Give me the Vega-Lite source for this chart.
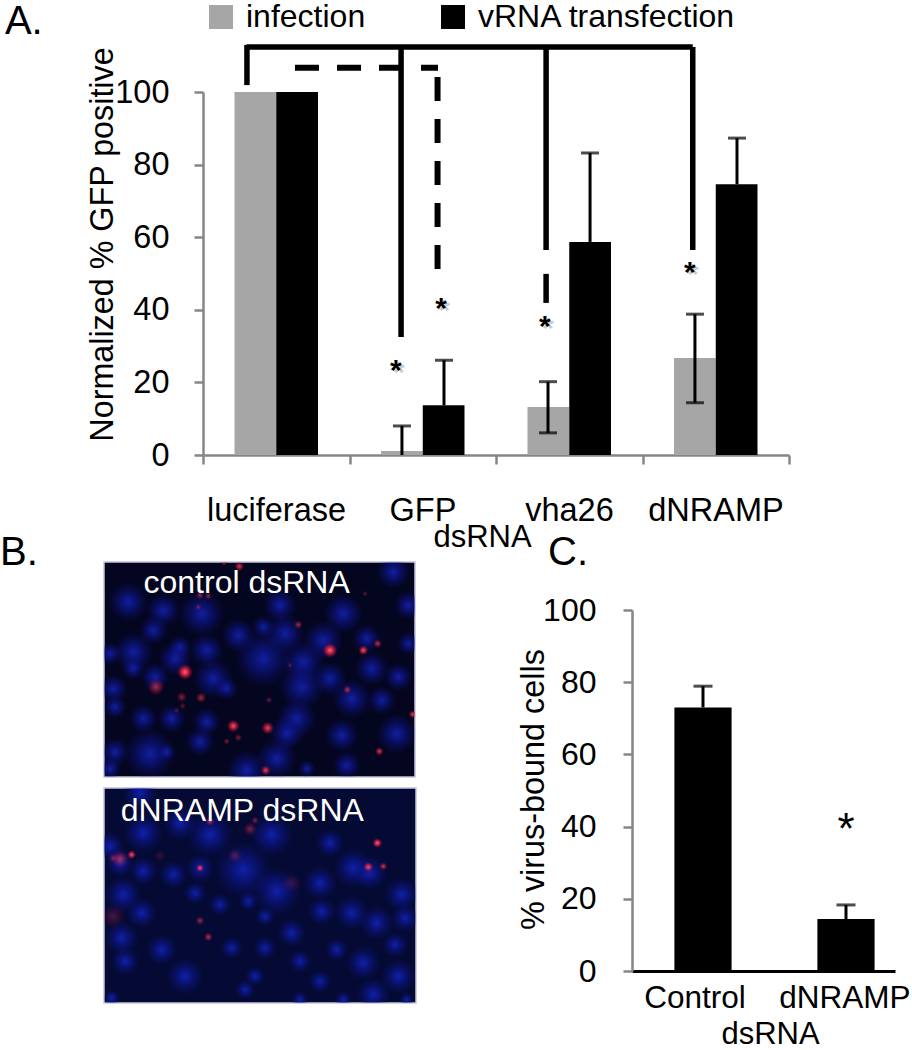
{
"$schema":"https://vega.github.io/schema/vega-lite/v6.json",
"padding":{"left":0,"top":1,"right":0,"bottom":0},
"bounds":"flush",
"spacing":107,
"config":{"font":"Liberation Sans","view":{"stroke":null},"axis":{"grid":false}},
"datasets":{
"bars":[
{"gene":"luciferase","series":"infection","start":0.215,"end":0.5,"value":100},
{"gene":"luciferase","series":"vRNA transfection","start":0.5,"end":0.785,"value":100},
{"gene":"GFP","series":"infection","start":1.215,"end":1.5,"value":1.1},
{"gene":"GFP","series":"vRNA transfection","start":1.5,"end":1.785,"value":13.7},
{"gene":"vha26","series":"infection","start":2.215,"end":2.5,"value":13.2},
{"gene":"vha26","series":"vRNA transfection","start":2.5,"end":2.785,"value":58.7},
{"gene":"dNRAMP","series":"infection","start":3.215,"end":3.5,"value":26.7},
{"gene":"dNRAMP","series":"vRNA transfection","start":3.5,"end":3.785,"value":74.6}],
"errors":[
{"x":1.358,"lower":0,"upper":8},
{"x":1.645,"lower":13.7,"upper":26.1},
{"x":2.355,"lower":6.1,"upper":20.2},
{"x":2.642,"lower":58.7,"upper":83.2},
{"x":3.358,"lower":14.4,"upper":38.8},
{"x":3.645,"lower":74.6,"upper":87.3}],
"capsA":[
{"x":1.358,"y":8},{"x":1.645,"y":26.1},{"x":2.355,"y":6.1},{"x":2.355,"y":20.2},{"x":2.642,"y":83.2},{"x":3.358,"y":14.4},{"x":3.358,"y":38.8},{"x":3.645,"y":87.3}],
"stars":[{"x":1.317,"y":24.2,"t":"*"},{"x":1.625,"y":41.3,"t":"*"},{"x":2.334,"y":36.4,"t":"*"},{"x":3.324,"y":51.2,"t":"*"}],
"panels":[{"x":-1.352,"y":116,"t":"A."},{"x":-1.385,"y":-30.3,"t":"B."},{"x":2.355,"y":-30.3,"t":"C."}],
"nuc1":[{"x":85,"y":140,"d":70},{"x":190,"y":165,"d":60},{"x":305,"y":175,"d":80},{"x":540,"y":150,"d":60},{"x":730,"y":175,"d":70},{"x":925,"y":150,"d":50},{"x":880,"y":50,"d":60},{"x":160,"y":225,"d":50},{"x":415,"y":240,"d":60},{"x":490,"y":215,"d":40},{"x":555,"y":235,"d":70},{"x":670,"y":255,"d":70},{"x":800,"y":250,"d":50},{"x":925,"y":265,"d":40},{"x":30,"y":295,"d":40},{"x":100,"y":290,"d":70},{"x":240,"y":275,"d":40},{"x":320,"y":285,"d":60},{"x":225,"y":310,"d":60},{"x":490,"y":310,"d":100},{"x":610,"y":320,"d":75},{"x":815,"y":340,"d":60},{"x":100,"y":340,"d":40},{"x":165,"y":365,"d":50},{"x":340,"y":370,"d":70},{"x":40,"y":400,"d":50},{"x":895,"y":365,"d":50},{"x":605,"y":395,"d":80},{"x":690,"y":370,"d":60},{"x":380,"y":400,"d":40},{"x":45,"y":455,"d":40},{"x":755,"y":430,"d":70},{"x":845,"y":435,"d":50},{"x":130,"y":490,"d":50},{"x":215,"y":490,"d":50},{"x":320,"y":500,"d":50},{"x":590,"y":490,"d":70},{"x":725,"y":540,"d":60},{"x":890,"y":535,"d":70},{"x":300,"y":560,"d":50},{"x":560,"y":535,"d":60},{"x":150,"y":595,"d":90},{"x":45,"y":590,"d":50},{"x":200,"y":590,"d":30},{"x":530,"y":610,"d":70},{"x":740,"y":630,"d":50},{"x":440,"y":645,"d":70},{"x":30,"y":640,"d":40},{"x":620,"y":640,"d":30}],
"red1":[{"x":690,"y":285,"d":30,"i":1},{"x":790,"y":285,"d":20,"i":0.9},{"x":833,"y":265,"d":18,"i":0.6},{"x":255,"y":350,"d":32,"i":1},{"x":168,"y":395,"d":35,"i":0.5},{"x":595,"y":208,"d":18,"i":0.5},{"x":418,"y":33,"d":20,"i":0.7},{"x":372,"y":20,"d":14,"i":0.7},{"x":300,"y":120,"d":16,"i":0.5},{"x":325,"y":122,"d":14,"i":0.5},{"x":295,"y":155,"d":14,"i":0.35},{"x":303,"y":427,"d":22,"i":0.5},{"x":245,"y":425,"d":22,"i":0.4},{"x":248,"y":452,"d":14,"i":0.3},{"x":400,"y":512,"d":26,"i":0.9},{"x":503,"y":518,"d":26,"i":0.8},{"x":415,"y":547,"d":16,"i":0.4},{"x":380,"y":558,"d":14,"i":0.4},{"x":507,"y":434,"d":14,"i":0.35},{"x":742,"y":403,"d":18,"i":0.55},{"x":938,"y":477,"d":16,"i":0.8},{"x":838,"y":588,"d":18,"i":0.7},{"x":497,"y":645,"d":20,"i":0.8},{"x":570,"y":330,"d":12,"i":0.3},{"x":795,"y":115,"d":12,"i":0.3},{"x":230,"y":465,"d":12,"i":0.3}],
"nuc2":[{"x":130,"y":160,"d":70},{"x":330,"y":165,"d":80},{"x":515,"y":165,"d":75},{"x":690,"y":190,"d":50},{"x":30,"y":200,"d":50},{"x":60,"y":250,"d":50},{"x":130,"y":275,"d":50},{"x":220,"y":285,"d":50},{"x":300,"y":265,"d":50},{"x":430,"y":270,"d":100},{"x":760,"y":265,"d":70},{"x":810,"y":280,"d":60},{"x":530,"y":335,"d":85},{"x":660,"y":310,"d":60},{"x":70,"y":345,"d":65},{"x":285,"y":340,"d":40},{"x":360,"y":375,"d":40},{"x":445,"y":365,"d":35},{"x":125,"y":400,"d":55},{"x":665,"y":395,"d":50},{"x":755,"y":400,"d":60},{"x":915,"y":415,"d":50},{"x":830,"y":430,"d":60},{"x":905,"y":345,"d":60},{"x":495,"y":410,"d":35},{"x":65,"y":475,"d":60},{"x":575,"y":460,"d":50},{"x":185,"y":510,"d":55},{"x":395,"y":505,"d":40},{"x":495,"y":505,"d":40},{"x":710,"y":510,"d":40},{"x":885,"y":495,"d":45},{"x":75,"y":545,"d":50},{"x":600,"y":545,"d":40},{"x":790,"y":550,"d":60},{"x":255,"y":590,"d":65},{"x":895,"y":590,"d":60},{"x":465,"y":590,"d":35},{"x":660,"y":605,"d":40},{"x":435,"y":630,"d":35},{"x":820,"y":645,"d":60},{"x":600,"y":660,"d":30},{"x":730,"y":660,"d":30},{"x":920,"y":660,"d":25},{"x":35,"y":655,"d":30},{"x":120,"y":40,"d":60},{"x":240,"y":130,"d":60}],
"red2":[{"x":832,"y":190,"d":20,"i":1},{"x":805,"y":262,"d":20,"i":0.9},{"x":850,"y":260,"d":16,"i":0.7},{"x":300,"y":265,"d":16,"i":0.9},{"x":95,"y":225,"d":18,"i":0.9},{"x":60,"y":238,"d":34,"i":0.5},{"x":40,"y":235,"d":20,"i":0.35},{"x":325,"y":472,"d":18,"i":0.6},{"x":300,"y":423,"d":18,"i":0.5},{"x":40,"y":410,"d":50,"i":0.2},{"x":450,"y":148,"d":28,"i":0.35},{"x":465,"y":122,"d":16,"i":0.4},{"x":330,"y":125,"d":18,"i":0.6},{"x":405,"y":228,"d":30,"i":0.25},{"x":180,"y":228,"d":25,"i":0.15},{"x":575,"y":310,"d":40,"i":0.15}],
"barsC":[{"cat":"Control","value":73,"upper":78.9},{"cat":"dNRAMP","value":14.4,"upper":18.3}]
},
"vconcat":[
{"width":685,"height":363,
"layer":[
{"data":{"name":"bars"},"mark":{"type":"bar"},
"encoding":{
"x":{"field":"start","type":"quantitative","scale":{"domain":[0,4],"range":[99,685],"nice":false,"zero":false},
"axis":{"values":[0,1,2,3,4],"title":"dsRNA","titleFontSize":31,"titleFontWeight":"normal","titleX":378,"titleY":67,"domainColor":"#868686","domainWidth":2.5,"tickColor":"#868686","tickWidth":2.5,"tickSize":9,"labelFontSize":32.5,"labelPadding":30,"labelOffset":73,"labelFlush":false,"labelOverlap":false,"labelBound":false,"labelColor":"#000","labelExpr":"['luciferase','GFP','vha26','dNRAMP',''][datum.value]"}},
"x2":{"field":"end"},
"y":{"field":"value","type":"quantitative","stack":null,"scale":{"domain":[0,100],"nice":false},
"axis":{"values":[0,20,40,60,80,100],"offset":-99,"title":"Normalized % GFP positive","titleFontSize":32.3,"titleFontWeight":"normal","titleColor":"#000","titleX":-84,"titleY":152,"domainColor":"#868686","domainWidth":2.5,"tickColor":"#868686","tickWidth":2.5,"tickSize":9,"labelFontSize":32.5,"labelPadding":25,"labelColor":"#000"}},
"y2":{"datum":0},
"color":{"field":"series","type":"nominal","scale":{"domain":["infection","vRNA transfection"],"range":["#a6a6a6","#000000"]},
"legend":{"title":null,"orient":"none","legendX":101,"legendY":-91,"direction":"horizontal","columns":2,"padding":0,"symbolType":"square","symbolSize":576,"symbolStrokeWidth":0,"labelFontSize":32,"labelOffset":9,"columnPadding":71,"labelColor":"#000","labelLimit":400}}
}},
{"data":{"name":"errors"},"mark":{"type":"rule","color":"#000","strokeWidth":3},"encoding":{"x":{"field":"x","type":"quantitative"},"y":{"field":"lower","type":"quantitative"},"y2":{"field":"upper"}}},
{"data":{"name":"capsA"},"mark":{"type":"tick","orient":"horizontal","color":"#000","size":18,"thickness":3},"encoding":{"x":{"field":"x","type":"quantitative"},"y":{"field":"y","type":"quantitative"}}},
{"data":{"values":[{"x":0.3,"x2":3.343,"y":112.4}]},"mark":{"type":"rule","color":"#000","strokeWidth":5.5},"encoding":{"x":{"field":"x","type":"quantitative"},"x2":{"field":"x2"},"y":{"field":"y","type":"quantitative"}}},
{"data":{"values":[{"x":0.3,"y":113,"y2":101.9},{"x":1.352,"y":112.4,"y2":32.5},{"x":2.342,"y":112.4,"y2":56.5},{"x":2.342,"y":49.9,"y2":41.9},{"x":3.343,"y":112.4,"y2":56.5}]},"mark":{"type":"rule","color":"#000","strokeWidth":5.5},"encoding":{"x":{"field":"x","type":"quantitative"},"y":{"field":"y","type":"quantitative"},"y2":{"field":"y2"}}},
{"data":{"values":[{"x":0.628,"x2":1.604,"y":106.7}]},"mark":{"type":"rule","color":"#000","strokeWidth":6,"strokeDash":[24,18]},"encoding":{"x":{"field":"x","type":"quantitative"},"x2":{"field":"x2"},"y":{"field":"y","type":"quantitative"}}},
{"data":{"values":[{"x":1.601,"y":104.1,"y2":51}]},"mark":{"type":"rule","color":"#000","strokeWidth":6,"strokeDash":[24,18]},"encoding":{"x":{"field":"x","type":"quantitative"},"y":{"field":"y","type":"quantitative"},"y2":{"field":"y2"}}},
{"data":{"name":"stars"},"mark":{"type":"text","fontSize":30,"fontWeight":"bold","color":"#cccccc","dx":3,"dy":6,"baseline":"middle"},"encoding":{"x":{"field":"x","type":"quantitative"},"y":{"field":"y","type":"quantitative"},"text":{"field":"t"}}},
{"data":{"name":"stars"},"mark":{"type":"text","fontSize":30,"fontWeight":"bold","color":"#000","dy":4,"baseline":"middle"},"encoding":{"x":{"field":"x","type":"quantitative"},"y":{"field":"y","type":"quantitative"},"text":{"field":"t"}}},
{"data":{"name":"panels"},"mark":{"type":"text","fontSize":40,"color":"#000","align":"left","baseline":"alphabetic"},"encoding":{"x":{"field":"x","type":"quantitative"},"y":{"field":"y","type":"quantitative"},"text":{"field":"t"}}}
]},
{"bounds":"flush","spacing":528,"hconcat":[
{"bounds":"flush","spacing":11,"vconcat":[
{"width":311,"height":215,"view":{"fill":"#04051f","stroke":"#c4c4dc","strokeWidth":1.5},
"layer":[
{"data":{"name":"nuc1"},"mark":{"type":"point","filled":true,"clip":true,"fill":{"gradient":"radial","stops":[{"offset":0,"color":"rgba(25,45,230,0.95)"},{"offset":0.5,"color":"rgba(15,25,170,0.6)"},{"offset":1,"color":"rgba(15,20,120,0)"}]}},
"encoding":{"x":{"field":"x","type":"quantitative","axis":null,"scale":{"domain":[12,945],"nice":false,"zero":false}},"y":{"field":"y","type":"quantitative","axis":null,"scale":{"domain":[665,20],"nice":false,"zero":false}},"size":{"field":"d","type":"quantitative","legend":null,"scale":{"type":"pow","exponent":2,"domain":[0,100],"range":[0,3400]}}}},
{"data":{"name":"red1"},"mark":{"type":"point","filled":true,"clip":true,"fill":{"gradient":"radial","stops":[{"offset":0,"color":"#ff6a8a"},{"offset":0.45,"color":"rgba(225,30,60,0.85)"},{"offset":1,"color":"rgba(150,20,50,0)"}]}},
"encoding":{"x":{"field":"x","type":"quantitative"},"y":{"field":"y","type":"quantitative"},"size":{"field":"d","type":"quantitative","legend":null,"scale":{"type":"pow","exponent":2,"domain":[0,30],"range":[0,220]}},"opacity":{"field":"i","type":"quantitative","legend":null,"scale":{"domain":[0,1],"range":[0,1]}}}},
{"data":{"values":[{"x":440,"y":82,"t":"control dsRNA"}]},"mark":{"type":"text","fontSize":32,"color":"#fff","baseline":"middle"},"encoding":{"x":{"field":"x","type":"quantitative"},"y":{"field":"y","type":"quantitative"},"text":{"field":"t"}}}
],"resolve":{"scale":{"size":"independent"}}},
{"width":312,"height":215,"view":{"fill":"#040a33","stroke":"#c4c4dc","strokeWidth":1.5},
"layer":[
{"data":{"name":"nuc2"},"mark":{"type":"point","filled":true,"clip":true,"fill":{"gradient":"radial","stops":[{"offset":0,"color":"rgba(22,45,235,0.95)"},{"offset":0.5,"color":"rgba(15,25,170,0.6)"},{"offset":1,"color":"rgba(15,20,120,0)"}]}},
"encoding":{"x":{"field":"x","type":"quantitative","axis":null,"scale":{"domain":[12,948],"nice":false,"zero":false}},"y":{"field":"y","type":"quantitative","axis":null,"scale":{"domain":[670,25],"nice":false,"zero":false}},"size":{"field":"d","type":"quantitative","legend":null,"scale":{"type":"pow","exponent":2,"domain":[0,100],"range":[0,3400]}}}},
{"data":{"name":"red2"},"mark":{"type":"point","filled":true,"clip":true,"fill":{"gradient":"radial","stops":[{"offset":0,"color":"#ff6a9a"},{"offset":0.45,"color":"rgba(225,30,70,0.85)"},{"offset":1,"color":"rgba(150,20,50,0)"}]}},
"encoding":{"x":{"field":"x","type":"quantitative"},"y":{"field":"y","type":"quantitative"},"size":{"field":"d","type":"quantitative","legend":null,"scale":{"type":"pow","exponent":2,"domain":[0,30],"range":[0,220]}},"opacity":{"field":"i","type":"quantitative","legend":null,"scale":{"domain":[0,1],"range":[0,1]}}}},
{"data":{"values":[{"x":427,"y":95,"t":"dNRAMP dsRNA"}]},"mark":{"type":"text","fontSize":32,"color":"#fff","baseline":"middle"},"encoding":{"x":{"field":"x","type":"quantitative"},"y":{"field":"y","type":"quantitative"},"text":{"field":"t"}}}
],"resolve":{"scale":{"size":"independent"}}}
]},
{"width":263,"height":409,
"data":{"name":"barsC"},
"layer":[
{"mark":{"type":"bar","color":"#000"},
"encoding":{
"x":{"field":"cat","type":"nominal","sort":null,"scale":{"type":"band","domain":["Control","dNRAMP"],"paddingInner":0.6,"paddingOuter":0.2196,"align":0.675},
"axis":{"title":"dsRNA","titleFontSize":31,"titleFontWeight":"normal","titleX":138,"titleY":48,"domainColor":"#000","domainWidth":3,"ticks":false,"labelAngle":0,"labelFontSize":31.5,"labelPadding":11,"labelColor":"#000","labelOverlap":false,"labelBound":false,"labelFlush":false,"labelOffset":{"condition":{"test":"datum.value=='Control'","value":-8},"value":-1}}},
"y":{"field":"value","type":"quantitative","scale":{"domain":[0,100],"range":[409,48],"nice":false},
"axis":{"values":[0,20,40,60,80,100],"title":"% virus-bound cells","titleFontSize":32.4,"titleFontWeight":"normal","titleColor":"#000","titleX":-82,"titleY":227,"domainColor":"#868686","domainWidth":2.5,"tickColor":"#868686","tickWidth":2.5,"tickSize":9,"labelFontSize":32,"labelPadding":27,"labelColor":"#000"}}
}},
{"mark":{"type":"rule","color":"#000","strokeWidth":3},"encoding":{"x":{"field":"cat","type":"nominal","sort":null},"y":{"field":"value","type":"quantitative"},"y2":{"field":"upper"}}},
{"mark":{"type":"tick","orient":"horizontal","color":"#000","size":19,"thickness":3},"encoding":{"x":{"field":"cat","type":"nominal","sort":null},"y":{"field":"upper","type":"quantitative"}}},
{"data":{"values":[{"cat":"dNRAMP","y":41,"t":"*"}]},"mark":{"type":"text","fontSize":44,"color":"#000","baseline":"middle","dy":8},"encoding":{"x":{"field":"cat","type":"nominal","sort":null},"y":{"field":"y","type":"quantitative"},"text":{"field":"t"}}}
]}
]}
]}
